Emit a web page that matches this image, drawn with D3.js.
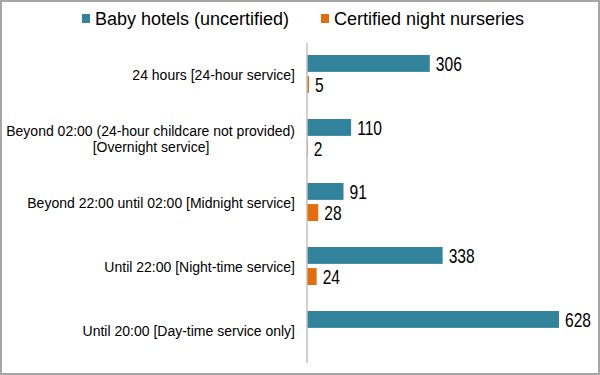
<!DOCTYPE html>
<html>
<head>
<meta charset="utf-8">
<script src="https://cdn.jsdelivr.net/npm/d3@7"></script>
<style>
  body { margin: 0; background: #fff; }
  svg { display: block; }
  .cat-label { font-family: "Liberation Sans", Arial, sans-serif; font-size: 14px; fill: #000; }
  .legend text { font-family: "Liberation Sans", Arial, sans-serif; font-size: 18px; fill: #000; }
  .value { font-family: "Liberation Sans", Arial, sans-serif; font-size: 20px; fill: #000; }
</style>
</head>
<body>
<svg id="chart" width="600" height="375"></svg>
<script>
var categories = [
  ["24 hours [24-hour service]"],
  ["Beyond 02:00 (24-hour childcare not provided)", "[Overnight service]"],
  ["Beyond 22:00 until 02:00 [Midnight service]"],
  ["Until 22:00 [Night-time service]"],
  ["Until 20:00 [Day-time service only]"]
];
var seriesNames = ["Baby hotels (uncertified)", "Certified night nurseries"];
var babyHotels = [306, 110, 91, 338, 628];
var nightNurseries = [5, 2, 28, 24, null];

var colors = ["#31849B", "#E46C0A"];
var width = 600, height = 375;
var plot = {left: 307, right: 559, top: 43, bottom: 363};

var svg = d3.select("#chart");

// outer frame
svg.append("rect")
    .attr("x", 1).attr("y", 1)
    .attr("width", width - 2).attr("height", height - 2)
    .attr("fill", "#fff")
    .attr("stroke", "#A6A6A6")
    .attr("stroke-width", 2);

var rows = categories.map(function(c, i) {
  return {idx: i, label: c, values: [babyHotels[i], nightNurseries[i]]};
});

var xScale = d3.scaleLinear()
    .domain([0, 628])
    .range([plot.left, plot.right]);
var yScale = d3.scaleBand()
    .domain(d3.range(categories.length))
    .range([plot.top, plot.bottom]);
var ySub = d3.scaleBand()
    .domain([0, 1])
    .range([12, 50])
    .paddingInner(0.2);

// legend
var legend = svg.append("g").attr("class", "legend");
var legendX = [82, 321];
seriesNames.forEach(function(name, i) {
  var g = legend.append("g").attr("transform", `translate(${legendX[i]}, 0)`);
  g.append("rect")
      .attr("x", 0).attr("y", 14)
      .attr("width", 8).attr("height", 9)
      .attr("fill", colors[i]);
  g.append("text")
      .attr("x", 13).attr("y", 25)
      .text(name);
});

// groups
var group = svg.selectAll("g.row")
    .data(rows)
    .enter().append("g")
        .attr("class", "row")
        .attr("transform", function(d) { return `translate(0, ${yScale(d.idx)})`; });

var bar = group.selectAll("g.bar")
    .data(function(d) {
      return d.values.map(function(v, s) { return {s: s, v: v}; })
          .filter(function(e) { return e.v != null; });
    })
    .enter().append("g")
        .attr("class", "bar");

bar.append("rect")
    .attr("x", xScale(0))
    .attr("y", function(d) { return ySub(d.s); })
    .attr("width", function(d) { return xScale(d.v) - xScale(0); })
    .attr("height", ySub.bandwidth())
    .attr("fill", function(d) { return colors[d.s]; });

// narrow value labels (condensed horizontally)
bar.append("text")
    .attr("class", "value")
    .attr("transform", function(d) {
      return `translate(${xScale(d.v) + 6}, ${ySub(d.s) + ySub.bandwidth() / 2}) scale(0.78, 1)`;
    })
    .attr("dy", "0.36em")
    .text(function(d) { return d.v; });

// category labels
var labels = group.append("text")
    .attr("class", "cat-label")
    .attr("text-anchor", "end")
    .attr("transform", function() { return `translate(295, ${yScale.bandwidth() / 2})`; });
labels.each(function(d) {
  var t = d3.select(this);
  var n = d.label.length;
  d.label.forEach(function(line, j) {
    t.append("tspan")
        .attr("x", 0)
        .attr("y", (j - (n - 1) / 2) * 16)
        .attr("dy", "0.35em")
        .attr("text-anchor", n > 1 && j > 0 ? "middle" : "end")
        .attr("dx", n > 1 && j > 0 ? -144 : 0)
        .text(line);
  });
});

// vertical axis line
svg.append("line")
    .attr("x1", xScale(0)).attr("x2", xScale(0))
    .attr("y1", plot.top).attr("y2", plot.bottom)
    .attr("stroke", "#BFBFBF")
    .attr("stroke-width", 1.5);
</script>
</body>
</html>
